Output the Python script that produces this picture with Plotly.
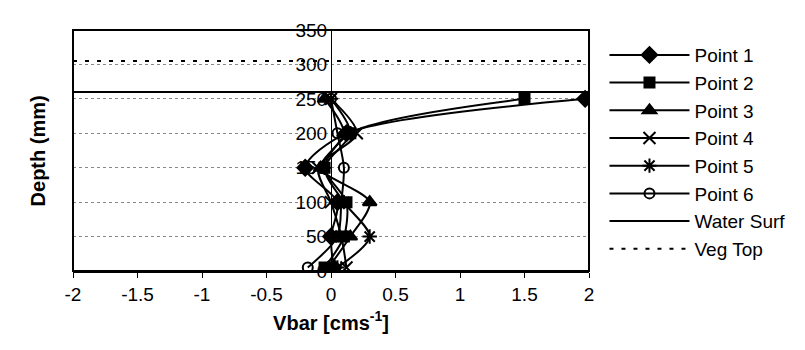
import plotly.graph_objects as go

# ---- data ----
depth = [5, 50, 100, 150, 200, 250]
point1 = [0.02, 0.00, 0.05, -0.20, 0.12, 1.97]
point2 = [-0.05, 0.10, 0.12, -0.05, 0.15, 1.50]
point3 = [-0.02, 0.15, 0.30, -0.08, 0.10, -0.05]
point4 = [0.12, 0.08, 0.00, -0.10, 0.20, 0.00]
point5 = [0.05, 0.30, 0.10, -0.05, 0.15, 0.00]
point6 = [-0.18, 0.05, 0.08, 0.10, 0.05, 0.00]
series_names = ["Point 1", "Point 2", "Point 3", "Point 4", "Point 5", "Point 6"]
water_surf_x = [-2, 2]
water_surf_y = [260, 260]
veg_top_x = [-2, 2]
veg_top_y = [305, 305]
x_ticks = [-2, -1.5, -1, -0.5, 0, 0.5, 1, 1.5, 2]
y_ticks = [0, 50, 100, 150, 200, 250, 300, 350]

series = [point1, point2, point3, point4, point5, point6]
symbols = ["diamond", "square", "triangle-up", "x-thin-open", "asterisk-open", "circle-open"]
sizes = [12, 10, 12, 12, 12, 10]

fig = go.Figure()
for name, vals, sym, sz in zip(series_names, series, symbols, sizes):
    fig.add_trace(go.Scatter(
        x=vals, y=depth, name=name, mode="lines+markers",
        line=dict(color="black", width=2, shape="spline", smoothing=0.8),
        marker=dict(symbol=sym, size=sz, color="black",
                    line=dict(color="black", width=2)),
    ))

fig.add_trace(go.Scatter(x=water_surf_x, y=water_surf_y, name="Water Surf",
                         mode="lines", line=dict(color="black", width=2)))
fig.add_trace(go.Scatter(x=veg_top_x, y=veg_top_y, name="Veg Top",
                         mode="lines", line=dict(color="black", width=2, dash="4px,8px")))

fig.update_layout(
    width=805, height=350,
    margin=dict(l=65, r=224, t=22, b=87, autoexpand=False),
    paper_bgcolor="white", plot_bgcolor="white",
    font=dict(family="Arial, Liberation Sans, sans-serif", size=19, color="black"),
    showlegend=True,
    legend=dict(x=1.03, y=0.975, xanchor="left", yanchor="top",
                font=dict(size=19), itemwidth=80, tracegroupgap=0,
                bgcolor="rgba(0,0,0,0)"),
    xaxis=dict(range=[-2, 2], tickvals=x_ticks, ticktext=[f"{v:g}" for v in x_ticks],
               automargin=False,
               showgrid=False, zeroline=False, showline=True, linecolor="black",
               linewidth=2, ticks="outside", ticklen=5, tickwidth=1, tickcolor="black",
               tickfont=dict(size=19),
               title=dict(text="<b>Vbar [cms<sup>-1</sup>]</b>", font=dict(size=20), standoff=12)),
    yaxis=dict(range=[0, 350], tickvals=y_ticks, anchor="free", position=0.5,
               automargin=False,
               showgrid=True, gridcolor="#888888", griddash="dot", gridwidth=1,
               zeroline=False, showline=True, linecolor="black", linewidth=1,
               ticks="", tickfont=dict(size=19)),
    shapes=[dict(type="rect", xref="paper", yref="paper", x0=0, x1=1, y0=0, y1=1,
                 line=dict(color="black", width=2), layer="above")],
    annotations=[dict(text="<b>Depth (mm)</b>", xref="paper", yref="paper",
                      x=-0.068, y=0.5, textangle=-90, showarrow=False,
                      font=dict(size=20), xanchor="center", yanchor="middle")],
)

fig.write_html("out.html")
